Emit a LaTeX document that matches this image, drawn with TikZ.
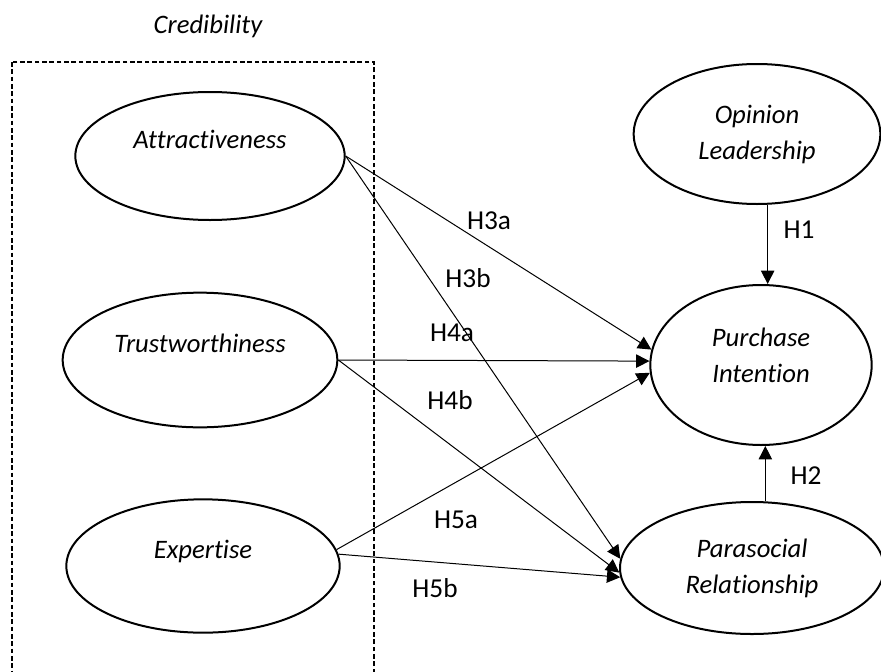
\documentclass[tikz,border=0pt]{standalone}
\usepackage{fontspec}
\setmainfont{Carlito}[Ligatures=NoCommon]
\usepackage{tikz}
\usetikzlibrary{shapes.geometric,arrows.meta}

\begin{document}
\begin{tikzpicture}[x=0.75pt, y=-0.75pt,
		node_style/.style={ellipse,draw=black,line width=1.5pt,inner sep=0pt,align=center,font=\itshape\fontsize{20}{27}\selectfont},
		node_style1/.style={node_style,text depth=25pt},
		edge_style/.style={draw=black,line width=0.75pt,-{Triangle[length=10pt,width=10pt]}},
		label_style/.style={font=\fontsize{20.5}{24}\selectfont}]

		\useasboundingbox (0,0) rectangle (881,671);
		\clip (0,0) rectangle (881,671);

		\node[font=\itshape\fontsize{20}{24}\selectfont] (cred) at (208,26) {Credibility};
		\draw[line width=1.6pt, dash pattern=on 3.5pt off 2pt] (12,62) rectangle (374,700);

		\node[node_style1, minimum width=202pt, minimum height=96pt] (attr) at (210,156) {Attractiveness};
		\node[node_style1, minimum width=206pt, minimum height=101pt] (trust) at (200,360) {Trustworthiness};
		\node[node_style1, minimum width=205pt, minimum height=100pt] (expert) at (203,566) {Expertise};
		\node[node_style, minimum width=185pt, minimum height=105pt] (opinion) at (757,134) {Opinion\\Leadership};
		\node[node_style, text depth=14pt, minimum width=166pt, minimum height=120pt] (purchase) at (761,365) {Purchase\\Intention};
		\node[node_style, minimum width=198pt, minimum height=99pt] (para) at (752,568) {Parasocial\\Relationship};

		\draw[edge_style] (attr.east) -- (purchase.172);
		\draw[edge_style] (attr.east) -- (para.176);
		\draw[edge_style] (trust.east) -- (purchase.178);
		\draw[edge_style] (trust.east) -- (para.182);
		\draw[edge_style] (expert.7) -- (purchase.184);
		\draw[edge_style] (expert.5) -- (para.184);
		\draw[edge_style] ([xshift=8pt]opinion.south) -- ([xshift=8pt]opinion.south |- purchase.north);
		\draw[edge_style] ([xshift=10pt]para.north) -- ([xshift=10pt]para.north |- purchase.south);

		\node[label_style] (h3a) at (489,221) {H3a};
		\node[label_style] (h3b) at (468,278) {H3b};
		\node[label_style] (h4a) at (452,333) {H4a};
		\node[label_style] (h4b) at (450,400) {H4b};
		\node[label_style] (h5a) at (456,520) {H5a};
		\node[label_style] (h5b) at (435,588) {H5b};
		\node[label_style] (h1) at (799,230) {H1};
		\node[label_style] (h2) at (806,476) {H2};
		\end{tikzpicture}
\end{document}
